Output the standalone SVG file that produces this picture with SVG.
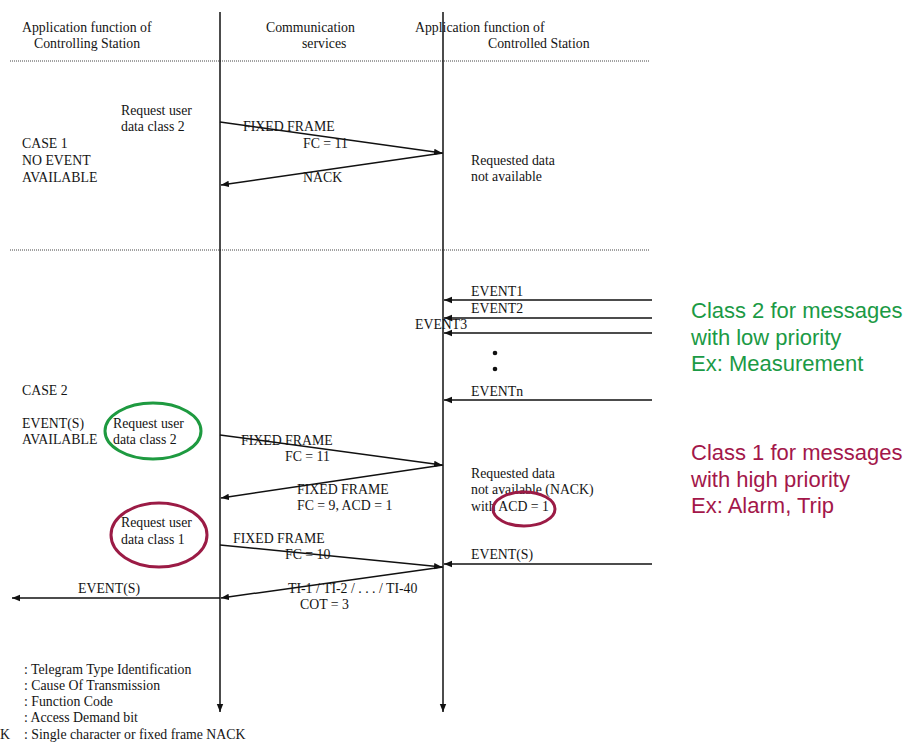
<svg xmlns="http://www.w3.org/2000/svg" width="911" height="745" viewBox="0 0 911 745">
<style>
text{font-family:"Liberation Serif","Times New Roman",serif;font-size:13.8px;fill:#141414}
.ln{stroke:#111;stroke-width:1.5;fill:none}
.dot{stroke:#444;stroke-width:1;stroke-dasharray:1 1;fill:none}
.note{font-family:"Liberation Sans",Arial,sans-serif;font-size:22px}
.g{fill:#1b9a45}
.r{fill:#a3174a}
</style>
<defs>
<marker id="ah" viewBox="0 0 10 10" refX="10" refY="5" markerWidth="8" markerHeight="8" markerUnits="userSpaceOnUse" orient="auto">
<path d="M0,1 L10,5 L0,9 Z" fill="#111"/>
</marker>
</defs>
<rect width="911" height="745" fill="#fff"/>
<g id="headers">
<text x="22" y="32">Application function of</text>
<text x="34" y="48">Controlling Station</text>
<text x="266" y="32">Communication</text>
<text x="302" y="48">services</text>
<text x="415" y="32">Application function of</text>
<text x="488" y="48">Controlled Station</text>
</g>
<g id="separators">
<line class="dot" x1="10" y1="61" x2="650" y2="61"/>
<line class="dot" x1="10" y1="250" x2="650" y2="250"/>
</g>
<g id="connectors">
<line class="ln" x1="220" y1="12" x2="220" y2="712" marker-end="url(#ah)"/>
<line class="ln" x1="443" y1="12" x2="443" y2="712" marker-end="url(#ah)"/>
<line class="ln" x1="220" y1="122" x2="442" y2="153" marker-end="url(#ah)"/>
<line class="ln" x1="443" y1="153" x2="221" y2="185" marker-end="url(#ah)"/>
<line class="ln" x1="652" y1="300" x2="444" y2="300" marker-end="url(#ah)"/>
<line class="ln" x1="652" y1="318" x2="444" y2="318" marker-end="url(#ah)"/>
<line class="ln" x1="652" y1="333" x2="444" y2="333" marker-end="url(#ah)"/>
<line class="ln" x1="652" y1="400" x2="444" y2="400" marker-end="url(#ah)"/>
<line class="ln" x1="220" y1="435" x2="442" y2="465" marker-end="url(#ah)"/>
<line class="ln" x1="443" y1="465" x2="221" y2="498" marker-end="url(#ah)"/>
<line class="ln" x1="220" y1="545" x2="442" y2="567" marker-end="url(#ah)"/>
<line class="ln" x1="652" y1="564" x2="444" y2="564" marker-end="url(#ah)"/>
<line class="ln" x1="443" y1="567" x2="221" y2="598" marker-end="url(#ah)"/>
<line class="ln" x1="220" y1="598" x2="12" y2="598" marker-end="url(#ah)"/>
</g>
<g id="case1">
<text x="121" y="115">Request user</text>
<text x="121" y="131">data class 2</text>
<text x="22" y="148">CASE 1</text>
<text x="22" y="165">NO EVENT</text>
<text x="22" y="182">AVAILABLE</text>
<text x="243" y="131">FIXED FRAME</text>
<text x="303" y="148">FC = 11</text>
<text x="303" y="182">NACK</text>
<text x="471" y="165">Requested data</text>
<text x="471" y="181">not available</text>
</g>
<g id="events">
<text x="471" y="296">EVENT1</text>
<text x="471" y="313">EVENT2</text>
<text x="415" y="329">EVENT3</text>
<circle cx="495" cy="353" r="2.3" fill="#111"/>
<circle cx="495" cy="369" r="2.3" fill="#111"/>
<text x="471" y="396">EVENTn</text>
</g>
<g id="case2">
<text x="22" y="395">CASE 2</text>
<text x="22" y="428">EVENT(S)</text>
<text x="22" y="444">AVAILABLE</text>
<text x="113" y="428">Request user</text>
<text x="113" y="444">data class 2</text>
<ellipse cx="153" cy="431" rx="48" ry="28" fill="none" stroke="#1e9a40" stroke-width="3"/>
<text x="241" y="445">FIXED FRAME</text>
<text x="285" y="461">FC = 11</text>
<text x="297" y="494">FIXED FRAME</text>
<text x="297" y="510">FC = 9, ACD = 1</text>
<text x="471" y="478">Requested data</text>
<text x="471" y="494">not available (NACK)</text>
<text x="471" y="511">with ACD = 1</text>
<ellipse cx="524" cy="509" rx="31" ry="17" fill="none" stroke="#9b1b45" stroke-width="3"/>
<text x="121" y="527">Request user</text>
<text x="121" y="544">data class 1</text>
<ellipse cx="159" cy="535" rx="48" ry="32" fill="none" stroke="#9b1b45" stroke-width="3"/>
<text x="233" y="543">FIXED FRAME</text>
<text x="285" y="559">FC = 10</text>
<text x="471" y="559">EVENT(S)</text>
<text x="288" y="593">TI-1 / TI-2 / . . .  /  TI-40</text>
<text x="300" y="609">COT = 3</text>
<text x="78" y="593">EVENT(S)</text>
</g>
<g id="legend">
<text x="24" y="674">: Telegram Type Identification</text>
<text x="24" y="690">: Cause Of Transmission</text>
<text x="24" y="706">: Function Code</text>
<text x="24" y="722">: Access Demand bit</text>
<text x="0" y="739">K</text>
<text x="24" y="739">: Single character or fixed frame NACK</text>
</g>
<g id="notes">
<text class="note g" x="691" y="318">Class 2 for messages</text>
<text class="note g" x="691" y="345">with low priority</text>
<text class="note g" x="691" y="371">Ex: Measurement</text>
<text class="note r" x="691" y="460">Class 1 for messages</text>
<text class="note r" x="691" y="487">with high priority</text>
<text class="note r" x="691" y="513">Ex: Alarm, Trip</text>
</g>
</svg>
